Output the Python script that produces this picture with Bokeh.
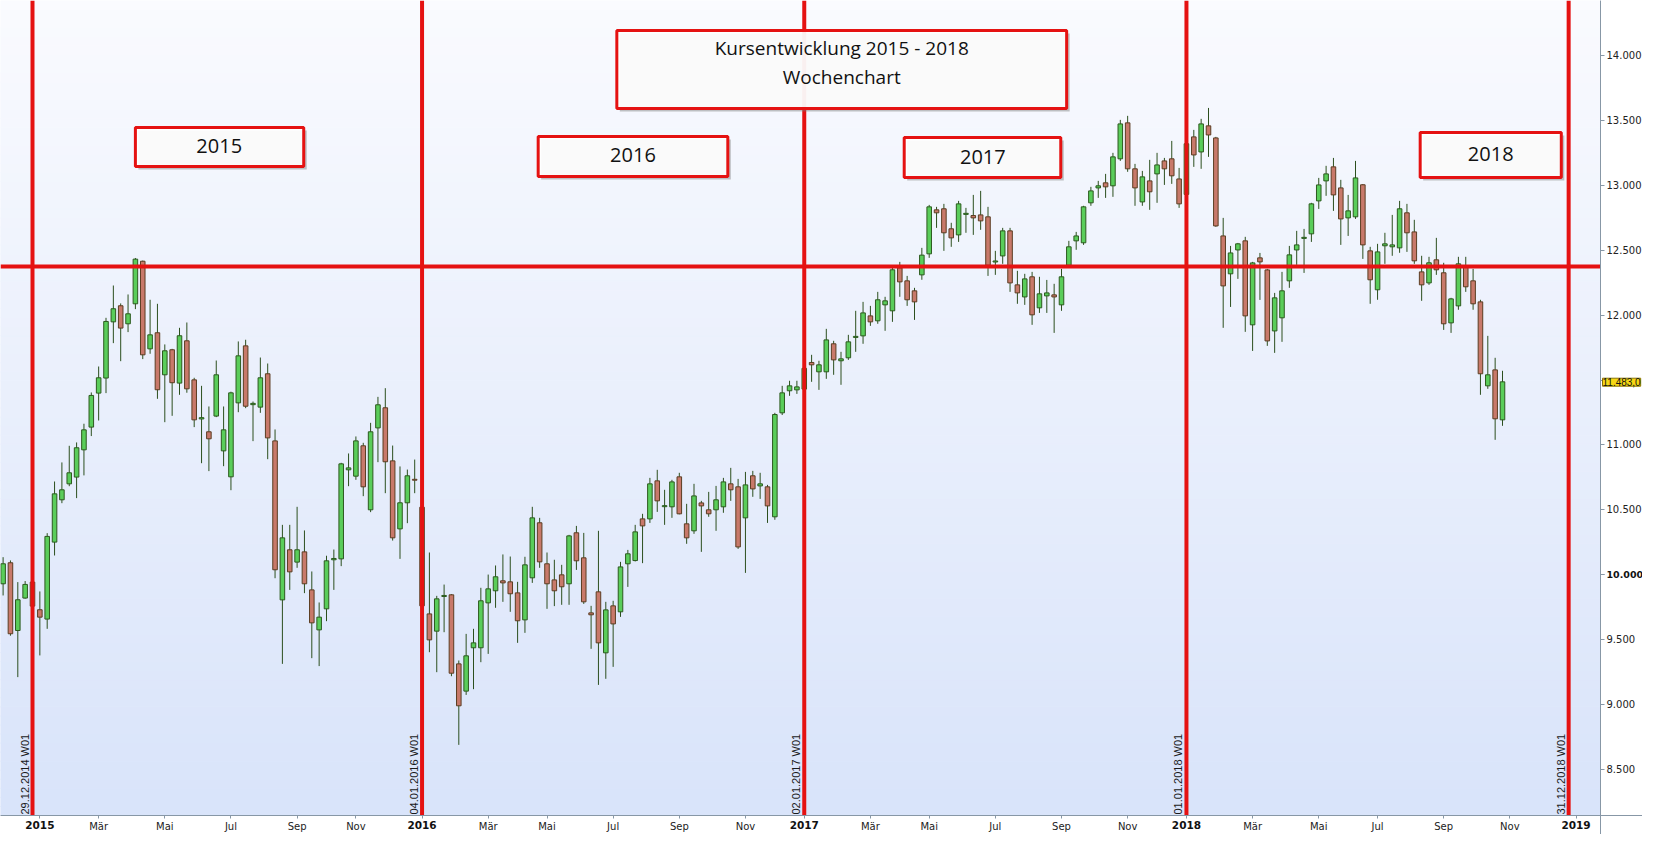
import math
import numpy as np
import pandas as pd
from bokeh.plotting import figure
from bokeh.models import Range1d, FixedTicker, Label, ColumnDataSource, LinearAxis
from bokeh.core.properties import value
from bokeh.embed import file_html
from bokeh.resources import INLINE

# ---------------- data (weekly candles, first week starts 01.12.2014) ----------------
first_week = "2014-12-01"
opens = [9930, 10092, 9570, 9820, 9943, 9730, 9658, 10251, 10577, 10700, 10752, 10962, 11137, 11399, 11515, 11948,
         12072, 11933, 12087, 12415, 11740, 11864, 11540, 11733, 11476, 11802, 11501, 11200, 11101, 11222, 10954, 10754,
         11324, 11763, 11310, 11291, 11548, 11031, 9806, 10192, 10097, 10176, 9883, 9575, 9737, 10115, 10122, 10808,
         10759, 10993, 10500, 11131, 11286, 10877, 10353, 10554, 10735, 10520, 9698, 9565, 9832, 9845, 9313, 9103,
         9437, 9437, 9783, 9876, 9953, 9945, 9860, 9652, 9976, 10400, 10084, 9960, 9999, 9930, 10323, 10130,
         9706, 9868, 9398, 9760, 9714, 10084, 10109, 10430, 10430, 10723, 10524, 10523, 10754, 10392, 10338, 10553,
         10500, 10500, 10523, 10700, 10677, 10438, 10762, 10684, 10677, 10446, 11247, 11417, 11424, 11430, 11635, 11563,
         11563, 11779, 11648, 11671, 11828, 11840, 11994, 11956, 12079, 12033, 12364, 12264, 12187, 12310, 12472, 12811,
         12819, 12665, 12618, 12776, 12767, 12772, 12757, 12409, 12456, 12649, 12233, 12140, 12295, 12056, 12148, 12156,
         12079, 12384, 12572, 12557, 12865, 12980, 13019, 12996, 13204, 13481, 13127, 12872, 13034, 13088, 13188, 13204,
         13049, 12930, 13373, 13257, 13458, 13365, 12610, 12318, 12502, 12572, 11925, 12441, 12348, 11878, 11979, 12264,
         12502, 12591, 12626, 12880, 13034, 13142, 12980, 12749, 12757, 13004, 12495, 12195, 12534, 12526, 12518, 12788,
         12641, 12333, 12248, 12426, 12326, 11940, 12071, 12372, 12264, 12102, 11455, 11578, 11193]
highs = [10135, 10110, 9943, 9951, 9960, 9871, 10320, 10718, 10865, 10993, 11019, 11163, 11404, 11604, 11979, 12228,
         12090, 12159, 12440, 12420, 12118, 12087, 11774, 11740, 11902, 11943, 11517, 11455, 11296, 11650, 11296, 11410,
         11797, 11810, 11334, 11673, 11627, 11119, 10384, 10384, 10523, 10341, 10025, 9786, 10146, 10194, 10862, 10934,
         11065, 11016, 11170, 11370, 11437, 10995, 10834, 10810, 10887, 10530, 10171, 9837, 9924, 9850, 9339, 9544,
         9583, 9899, 10001, 10071, 10156, 10140, 9945, 10138, 10523, 10438, 10171, 10115, 10076, 10307, 10376, 10322,
         9760, 10338, 9791, 9799, 10099, 10191, 10384, 10469, 10746, 10808, 10654, 10731, 10785, 10546, 10700, 10569,
         10638, 10684, 10746, 10823, 10738, 10792, 10800, 10785, 10692, 11247, 11455, 11494, 11494, 11604, 11694, 11648,
         11894, 11802, 11717, 11848, 12033, 12102, 12071, 12179, 12141, 12364, 12410, 12302, 12210, 12518, 12849, 12834,
         12857, 12711, 12880, 12826, 12926, 12957, 12834, 12495, 12672, 12672, 12341, 12318, 12333, 12295, 12271, 12241,
         12356, 12572, 12641, 12842, 12988, 13034, 13088, 13250, 13504, 13535, 13165, 13111, 13196, 13250, 13211, 13342,
         13134, 13342, 13427, 13512, 13596, 13373, 12749, 12533, 12556, 12603, 12410, 12479, 12356, 12171, 12333, 12533,
         12649, 12664, 12865, 13057, 13150, 13211, 13042, 12926, 13188, 13010, 12526, 12549, 12634, 12772, 12880, 12857,
         12734, 12457, 12449, 12595, 12403, 12133, 12449, 12449, 12356, 12118, 11840, 11671, 11571]
lows = [9840, 9530, 9211, 9815, 9740, 9378, 9583, 10148, 10551, 10682, 10590, 10765, 11068, 11188, 11399, 11784,
        11645, 11869, 12046, 11661, 11702, 11355, 11175, 11224, 11386, 11402, 11137, 10859, 10798, 11214, 10836, 10651,
        11252, 11283, 11029, 11247, 10890, 9973, 9313, 9883, 10053, 9858, 9357, 9296, 9642, 9883, 10066, 10682,
        10731, 10605, 10482, 10867, 10628, 10263, 10122, 10397, 10628, 9700, 9403, 9249, 9557, 9218, 8689, 9074,
        9118, 9326, 9390, 9745, 9791, 9714, 9475, 9552, 9937, 10053, 9737, 9758, 9768, 9768, 10037, 9775,
        9429, 9151, 9198, 9290, 9675, 9906, 10102, 10089, 10399, 10484, 10384, 10438, 10465, 10238, 10315, 10176,
        10446, 10338, 10477, 10569, 10199, 10014, 10600, 10584, 10399, 10423, 11230, 11378, 11393, 11424, 11486, 11424,
        11509, 11540, 11463, 11655, 11717, 11779, 11917, 11933, 11879, 11948, 12141, 12071, 11963, 12272, 12441, 12672,
        12495, 12526, 12564, 12634, 12618, 12657, 12302, 12310, 12395, 12179, 12087, 12079, 11925, 12017, 12017, 11863,
        12033, 12380, 12503, 12541, 12842, 12903, 12903, 12911, 13188, 13104, 12842, 12842, 12811, 12865, 13003, 13011,
        12826, 12920, 13142, 13127, 13219, 12680, 11902, 12063, 12279, 11871, 11724, 12117, 11763, 11709, 11794, 12210,
        12387, 12325, 12564, 12818, 12919, 12803, 12541, 12610, 12741, 12433, 12087, 12118, 12395, 12457, 12480, 12487,
        12395, 12110, 12233, 12310, 11886, 11863, 12041, 12179, 12041, 11386, 11432, 11039, 11147]
closes = [10084, 9545, 9807, 9925, 9758, 9673, 10295, 10623, 10654, 10785, 10978, 11116, 11381, 11517, 11951, 12049,
          11900, 12010, 12431, 11694, 11848, 11425, 11725, 11479, 11841, 11432, 11193, 11210, 11047, 11540, 11116, 11401,
          11686, 11298, 11320, 11517, 11054, 10038, 10284, 10022, 10192, 9930, 9629, 9673, 10107, 10125, 10854, 10823,
          11031, 10677, 11101, 11309, 10870, 10284, 10554, 10762, 10728, 9760, 9498, 9814, 9840, 9241, 8990, 9375,
          9475, 9799, 9891, 9984, 9937, 9853, 9645, 10076, 10438, 10099, 9930, 9876, 9907, 10299, 10107, 9791,
          9691, 9475, 9729, 9621, 10060, 10161, 10330, 10376, 10700, 10569, 10532, 10715, 10469, 10284, 10607, 10530,
          10469, 10577, 10715, 10654, 10214, 10692, 10661, 10700, 10530, 11234, 11401, 11455, 11447, 11590, 11617, 11617,
          11809, 11655, 11663, 11794, 11836, 12017, 11948, 12118, 12110, 12349, 12256, 12118, 12102, 12462, 12834, 12788,
          12634, 12595, 12857, 12784, 12749, 12726, 12384, 12417, 12649, 12248, 12171, 12279, 12002, 12164, 12171, 12140,
          12295, 12526, 12610, 12834, 12957, 12996, 12988, 13219, 13473, 13127, 12980, 13065, 12950, 13157, 13127, 13073,
          12857, 13320, 13234, 13473, 13388, 12687, 12225, 12479, 12549, 11994, 12402, 12410, 11801, 12133, 12187, 12464,
          12541, 12599, 12857, 13003, 13088, 12926, 12741, 12803, 13057, 12541, 12272, 12487, 12549, 12541, 12819, 12634,
          12418, 12233, 12403, 12349, 11933, 12125, 12395, 12218, 12087, 11548, 11540, 11201, 11486]

last_price = 11483.0
last_price_label = "11.483,0"
level_line = 12375
year_line_dates = ["2014-12-29", "2016-01-04", "2017-01-02", "2018-01-01", "2018-12-31"]
year_line_labels = ["29.12.2014 W01", "04.01.2016 W01", "02.01.2017 W01", "01.01.2018 W01", "31.12.2018 W01"]
y_ticks = [8500, 9000, 9500, 10000, 10500, 11000, 11500, 12000, 12500, 13000, 13500, 14000]
y_tick_labels = ["8.500", "9.000", "9.500", "10.000", "10.500", "11.000", "11.500", "12.000", "12.500",
                 "13.000", "13.500", "14.000"]
bold_y_tick = 10000
hidden_y_tick = 11500              # covered by the last-price tag
month_names = {1: None, 3: "Mär", 5: "Mai", 7: "Jul", 9: "Sep", 11: "Nov"}
title_lines = ["Kursentwicklung 2015 - 2018", "Wochenchart"]
year_boxes = ["2015", "2016", "2017", "2018"]

# ---------------- geometry ----------------
W, H = 1642, 834
pxw = 7.35                          # px per week
ppy = 0.1298                        # px per index point
PW, PH = 1600, 815                  # price area (axis bands to the right and below)
xmin = -32 / pxw                    # weeks (0 = week of 29.12.2014)
xmax = xmin + PW / pxw
ymax = 14000 + 55 / ppy
ymin = ymax - PH / ppy
x_end = xmin + W / pxw
y_start = ymax - H / ppy
dpy = 1 / ppy

base = pd.Timestamp("2014-12-29")
dates = pd.date_range(first_week, periods=len(opens), freq="7D")
xs = ((dates - base).days // 7).astype(int).tolist()

o = np.array(opens, float); c = np.array(closes, float)
up = c >= o
src = ColumnDataSource(dict(
    x=xs, open=opens, close=closes, high=highs, low=lows,
    top=np.maximum(o, c), bottom=np.minimum(o, c),
    fill=np.where(up, "#5acd5a", "#c8796a"),
    edge=np.where(up, "#2c5a1e", "#5b3d22"),
))

p = figure(width=W, height=H, x_range=Range1d(xmin, x_end), y_range=Range1d(y_start, ymax),
           output_backend="svg", toolbar_location=None, y_axis_location="right",
           min_border_left=0, min_border_top=0, min_border_right=0, min_border_bottom=0)
p.border_fill_color = "white"
p.background_fill_color = "white"
p.outline_line_color = None
p.grid.visible = False

# background gradient of the price area (light at top, blue at bottom)
n = 90
edges = np.linspace(ymin, ymax, n + 1)
t = np.linspace(1, 0, n)
top_c = np.array([250, 251, 255]); bot_c = np.array([217, 228, 250])
cols = ["#%02x%02x%02x" % tuple((top_c + (bot_c - top_c) * tt).astype(int)) for tt in t]
p.quad(left=xmin, right=xmax, bottom=edges[:-1], top=edges[1:], fill_color=cols, line_color=cols, line_width=1)

# candles
p.segment(x0="x", y0="low", x1="x", y1="high", source=src, line_color="#2c4f1e", line_width=1)
p.vbar(x="x", width=0.62, top="top", bottom="bottom", source=src, fill_color="fill", line_color="edge", line_width=1)

# red reference lines
red = "#e51212"
line_x = [int((pd.Timestamp(d) - base).days // 7) for d in year_line_dates]
p.segment(x0=line_x, y0=ymin, x1=line_x, y1=ymax, line_color=red, line_width=4)
p.segment(x0=xmin, y0=level_line, x1=xmax, y1=level_line, line_color=red, line_width=4)
p.text(x=line_x, y=[ymin] * len(line_x), text=year_line_labels, angle=math.pi / 2,
       text_align="left", text_baseline="bottom", x_offset=-2, y_offset=-1,
       text_font=value("Liberation Sans"), text_font_size="11px", text_color="#1a1a1a")

# boxes (left, right in weeks; top, bottom in price)
def box(l, r, tp, bt):
    dx, dy = 3 / pxw, 3 * dpy
    p.quad(left=l + dx, right=r + dx, top=tp - dy, bottom=bt - dy, fill_color="#7a7a7a", fill_alpha=0.45, line_color=None)
    p.quad(left=l, right=r, top=tp, bottom=bt, fill_color="white", fill_alpha=0.92, line_color=red, line_width=3)

box(79.5, 140.7, 14193, 13592)
box(14.0, 36.9, 13445, 13145)
box(68.8, 94.6, 13376, 13068)
box(118.6, 139.9, 13368, 13060)
box(188.8, 208.0, 13407, 13060)

p.text(x=[110.1, 110.1], y=[14054, 13838], text=title_lines, text_align="center", text_baseline="middle",
       text_font=value("Open Sans"), text_font_size="19px", text_color="#111111")
p.text(x=[25.4, 81.7, 129.3, 198.4], y=[13300, 13230, 13220, 13240], text=year_boxes, text_align="center",
       text_baseline="middle", text_font=value("Open Sans"), text_font_size="20px", text_color="#111111")

axis_col = "#8797a6"
ax_font = "DejaVu Sans"

def style(ax, size="10px", bold=False, standoff=3, tick=4):
    ax.axis_line_color = axis_col
    ax.major_tick_line_color = axis_col
    ax.major_tick_in = 0
    ax.major_tick_out = tick
    ax.minor_tick_line_color = None
    ax.major_label_standoff = standoff
    ax.major_label_text_font = ax_font
    ax.major_label_text_font_size = size
    ax.major_label_text_color = "#111111" if bold else "#222222"
    ax.major_label_text_font_style = "bold" if bold else "normal"

# right price axis, drawn at the right edge of the price area
ya = p.yaxis[0]
ya.fixed_location = xmax
ya.ticker = FixedTicker(ticks=y_ticks)
ya.major_label_overrides = {tk: (" " if tk in (bold_y_tick, hidden_y_tick) else lb)
                            for tk, lb in zip(y_ticks, y_tick_labels)}
style(ya, standoff=2)
ya_b = LinearAxis(fixed_location=xmax, ticker=FixedTicker(ticks=[bold_y_tick]),
                  major_label_overrides={bold_y_tick: y_tick_labels[y_ticks.index(bold_y_tick)]})
style(ya_b, size="9.5px", bold=True, standoff=2)
p.add_layout(ya_b, "right")

p.add_layout(Label(x=xmax + 2 / pxw, y=last_price, text=last_price_label, text_align="left", text_baseline="middle",
                   text_font="Liberation Sans", text_font_size="10px", text_color="#111111",
                   background_fill_color="#f7d716", border_line_color="#8a7400", border_line_width=1))

# bottom time axis
tick_x, tick_lab, year_x, year_lab = [], {}, [], {}
for yr in range(2015, 2020):
    for m in month_names:
        d = pd.Timestamp(yr, m, 1)
        mon = d + pd.Timedelta(days=(7 - d.weekday()) % 7)
        wx = int((mon - base).days // 7)
        if xmin <= wx <= xmax:
            if month_names[m] is None:
                year_x.append(wx)
                year_lab[wx] = str(yr)
            else:
                tick_x.append(wx)
                tick_lab[wx] = month_names[m]
xa = p.xaxis[0]
xa.fixed_location = ymin
xa.ticker = FixedTicker(ticks=tick_x)
xa.major_label_overrides = tick_lab
style(xa, size="10px", standoff=2, tick=3)
xa_y = LinearAxis(fixed_location=ymin, ticker=FixedTicker(ticks=year_x), major_label_overrides=year_lab)
style(xa_y, size="10.5px", bold=True, standoff=2, tick=3)
p.add_layout(xa_y, "below")

open("out.html", "w").write(file_html(p, INLINE))
